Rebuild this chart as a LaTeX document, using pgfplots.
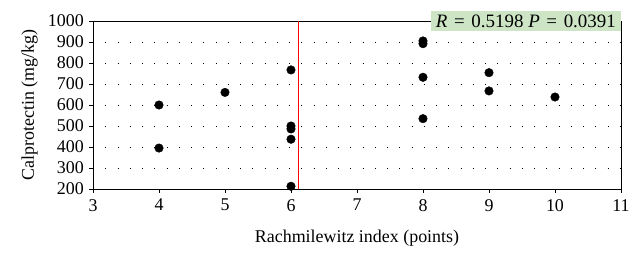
\documentclass[border=0pt]{standalone}
\usepackage{fontspec}
\setmainfont{Liberation Serif}
\usepackage{pgfplots}
\pgfplotsset{compat=1.18}
\definecolor{boxgreen}{RGB}{205,229,197}
\begin{document}
\fontsize{18}{21}\selectfont
\begin{tikzpicture}
\begin{axis}[
  at={(0,0)}, anchor=south west,
  scale only axis, width=528bp, height=168bp,
  xmin=3, xmax=11, ymin=200, ymax=1000,
  xtick={3,...,11}, ytick={200,300,...,1000},
  /pgf/number format/assume math mode=true,
  /pgf/number format/1000 sep={},
  tick label style={font=\fontsize{18}{21}\selectfont},
  label style={font=\fontsize{18}{21}\selectfont},
  xlabel={Rachmilewitz index (points)},
  ylabel={Calprotectin (mg/kg)},
  ylabel style={yshift=-2pt},
  xlabel style={yshift=-7pt},
  yticklabel style={xshift=1pt},
  axis line style={black, line width=0.8pt},
  tick style={black, line width=0.8pt},
  xtick pos=bottom, ytick pos=left,
  tick align=outside,
  major tick length=4pt,
  ymajorgrids,
  major grid style={black, line width=0.8pt, dash pattern=on 0.8pt off 11.5pt},
  clip=false,
]
\addplot[only marks, mark=*, mark size=4.3pt, black] coordinates {
(4,600) (4,395) (5,660) (6,767) (6,500) (6,486) (6,437) (6,213)
(8,905) (8,892) (8,732) (8,535) (9,754) (9,667) (10,638)
};
\addplot[red, line width=0.8pt] coordinates {(6.11,200) (6.11,1000)};
\node[fill=boxgreen, anchor=east, inner xsep=5pt, inner ysep=4pt, font=\fontsize{19}{22}\selectfont] at (axis cs:11,1000) {\textit{R}\hspace{0.35em}=\hspace{0.35em}0.5198 \textit{P}\hspace{0.35em}=\hspace{0.35em}0.0391};
\end{axis}
\pgfresetboundingbox
\path[use as bounding box] (-93bp,-68bp) rectangle (551bp,189bp);
\end{tikzpicture}
\end{document}
